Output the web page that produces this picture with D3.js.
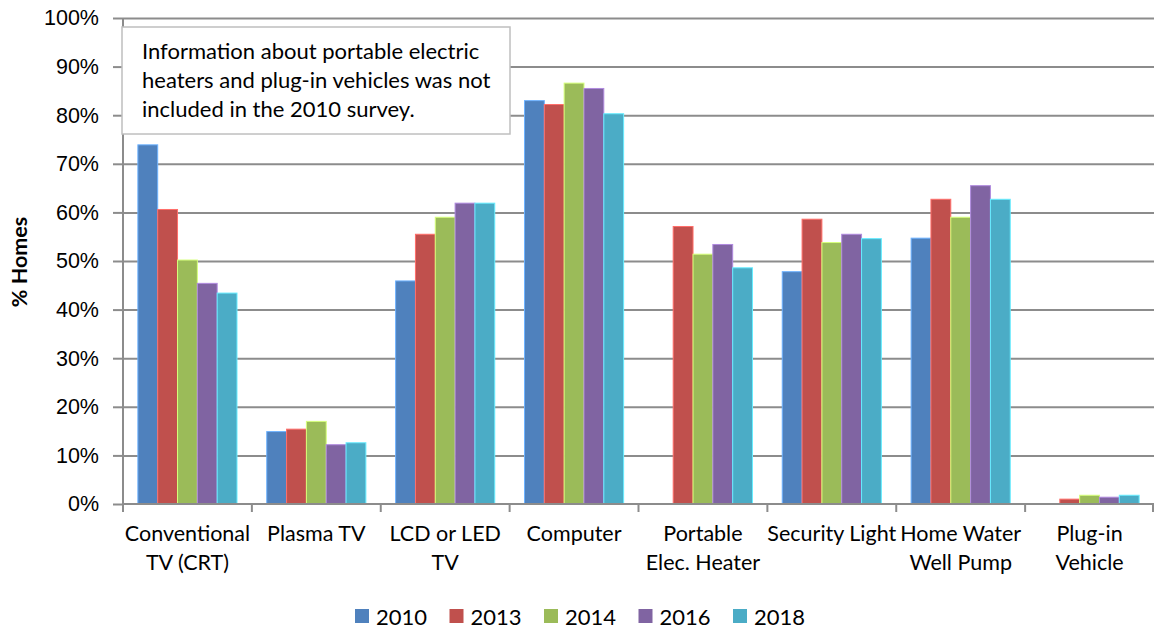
<!DOCTYPE html>
<meta charset="utf-8">
<style>
body { margin: 0; background: #fff; }
svg { display: block; font-family: Lato, "Open Sans", sans-serif; }
.grid line { stroke: #8c8c8c; stroke-width: 2px; }
.grid path { display: none; }
.axis path, .axis line { stroke: #8c8c8c; stroke-width: 2px; }
.axis text { fill: #000; font-size: 21.5px; }
.note rect { fill: #fff; stroke: #bfbfbf; stroke-width: 1.5px; }
.note text { font-size: 22px; fill: #000; }
.legend text { font-size: 22px; fill: #000; }
</style>
<svg width="1154" height="631"></svg>

<script src="https://d3js.org/d3.v7.min.js"></script>
<script>

var categories = ["Conventional\nTV (CRT)", "Plasma TV", "LCD or LED\nTV", "Computer",
                  "Portable\nElec. Heater", "Security Light", "Home Water\nWell Pump", "Plug-in\nVehicle"];
var years = ["2010", "2013", "2014", "2016", "2018"];
var colors = ["#4F81BD", "#C0504D", "#9BBB59", "#8064A2", "#4BACC6"];

// % of homes, one array per survey year (null = not asked)
var v2010 = [73.9, 14.9, 45.9, 83.0, null, 47.8, 54.7, null];
var v2013 = [60.6, 15.4, 55.5, 82.2, 57.1, 58.6, 62.7, 1.0];
var v2014 = [50.2, 17.0, 59.0, 86.6, 51.4, 53.8, 59.0, 1.8];
var v2016 = [45.4, 12.2, 61.9, 85.5, 53.4, 55.5, 65.5, 1.4];
var v2018 = [43.4, 12.6, 61.9, 80.3, 48.6, 54.6, 62.7, 1.8];
var series = [v2010, v2013, v2014, v2016, v2018];

var yTicks = [0, 10, 20, 30, 40, 50, 60, 70, 80, 90, 100];

var noteLines = ["Information about portable electric",
                 "heaters and plug-in vehicles was not",
                 "included in the 2010 survey."];

var svg = d3.select("svg");
var plotL = 123, plotR = 1154, plotT = 18, plotB = 504;

var x = d3.scaleBand().domain(categories).range([plotL, plotR]);
var x1 = d3.scaleBand().domain(years).range([0, x.bandwidth()]).paddingOuter(0.75);
var y = d3.scaleLinear().domain([0, 100]).range([plotB, plotT]);

// gridlines
svg.append("g")
    .attr("class", "grid")
    .attr("transform", "translate(" + plotL + ",0)")
    .call(d3.axisLeft(y).tickValues(yTicks.slice(1)).tickSize(-(plotR - plotL)).tickFormat(""));

// bars
var groups = svg.append("g").selectAll("g")
  .data(categories)
  .enter().append("g")
    .attr("transform", function(d) { return "translate(" + x(d) + ",0)"; });

groups.selectAll("rect")
  .data(function(d, i) {
    return years.map(function(yr, j) { return { year: yr, value: series[j][i], color: colors[j] }; })
      .filter(function(e) { return e.value != null; });
  })
  .enter().append("rect")
    .attr("x", function(d) { return x1(d.year); })
    .attr("y", function(d) { return y(d.value); })
    .attr("width", x1.bandwidth())
    .attr("height", function(d) { return y(0) - y(d.value); })
    .attr("fill", function(d) { return d.color; })
    .attr("stroke", function(d) { return d3.color(d.color).brighter(0.9); })
    .attr("stroke-width", 1);

// y axis
var yAxis = svg.append("g")
    .attr("class", "axis")
    .attr("transform", "translate(" + plotL + ",0)")
    .call(d3.axisLeft(y).tickValues(yTicks).tickSize(10).tickPadding(14)
      .tickFormat(function(d) { return d + "%"; }));
yAxis.select(".domain").attr("d", "M0," + plotT + "V" + plotB);

// x axis line + ticks at category boundaries
var xAxis = svg.append("g")
    .attr("class", "axis");
xAxis.append("line")
    .attr("x1", plotL).attr("x2", plotR).attr("y1", plotB).attr("y2", plotB);
xAxis.selectAll("line.tk")
  .data(categories.concat([null]))
  .enter().append("line")
    .attr("class", "tk")
    .attr("x1", function(d) { return d ? x(d) : plotR - 1; })
    .attr("x2", function(d) { return d ? x(d) : plotR - 1; })
    .attr("y1", plotB).attr("y2", plotB + 8);

var labels = xAxis.selectAll("text")
  .data(categories)
  .enter().append("text")
    .attr("text-anchor", "middle")
    .attr("transform", function(d) { return "translate(" + (x(d) + x.bandwidth() / 2) + ",541)"; });
labels.selectAll("tspan")
  .data(function(d) { return d.split("\n"); })
  .enter().append("tspan")
    .attr("x", 0)
    .attr("y", function(d, i) { return i * 28.5; })
    .text(function(d) { return d; });

// y title
svg.append("text")
    .attr("transform", "translate(27,262) rotate(-90)")
    .attr("text-anchor", "middle")
    .style("font-size", "21.5px")
    .style("font-weight", "bold")
    .text("% Homes");

// note box
var note = svg.append("g").attr("class", "note");
note.append("rect")
    .attr("x", 122).attr("y", 27).attr("width", 388).attr("height", 107);
note.selectAll("text")
  .data(noteLines)
  .enter().append("text")
    .attr("x", 142)
    .attr("y", function(d, i) { return 59 + i * 29; })
    .text(function(d) { return d; });

// legend
var legend = svg.append("g").attr("class", "legend")
  .selectAll("g")
  .data(years)
  .enter().append("g")
    .attr("transform", function(d, i) { return "translate(" + (355 + i * 94.5) + ",609)"; });
legend.append("rect")
    .attr("width", 14).attr("height", 14)
    .attr("fill", function(d, i) { return colors[i]; });
legend.append("text")
    .attr("x", 21).attr("y", 16)
    .text(function(d) { return d; });

</script>
